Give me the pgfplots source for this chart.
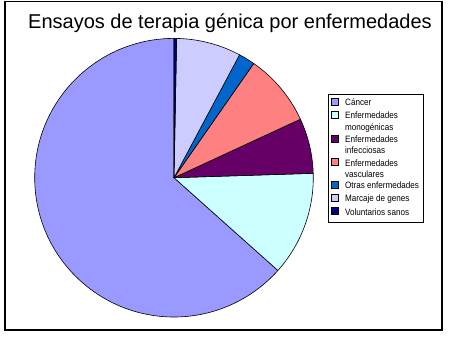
\documentclass[border=0pt]{standalone}
\usepackage{fontspec}
\setmainfont{Liberation Sans}
\usepackage{pgfplots}
\usepackage{pgfplotstable}
\pgfplotsset{compat=1.18}
\definecolor{ccancer}{HTML}{9999FF}
\definecolor{cmono}{HTML}{CCFFFF}
\definecolor{cinf}{HTML}{660066}
\definecolor{cvasc}{HTML}{FF8080}
\definecolor{cotras}{HTML}{0066CC}
\definecolor{cmarc}{HTML}{CCCCFF}
\definecolor{cvol}{HTML}{000080}
\pgfplotstableread[col sep=comma]{
name,value,color
Cancer,63.4,ccancer
Monogenicas,12.1,cmono
Infecciosas,6.4,cinf
Vasculares,8.4,cvasc
Otras,1.9,cotras
Marcaje,7.5,cmarc
Voluntarios,0.3,cvol
}\piedata
% #1 = baseline (image y, from top)
\newcommand\legsq[2]{\draw[black, line width=0.6bp, fill=#2] (axis cs:331,{343-#1+0.2}) rectangle (axis cs:338,{343-#1+7.2});}
\newcommand\legtx[2]{\node at (axis cs:345,{343-#1}) {\scalebox{0.88}[1]{#2}};}
\begin{document}
\begin{tikzpicture}
\useasboundingbox (0,0) rectangle (450bp,343bp);
\begin{axis}[
  at={(0,0)}, anchor=south west,
  scale only axis, x=1bp, y=1bp,
  xmin=0, xmax=450, ymin=0, ymax=343,
  hide axis, clip=false]
\addplot[draw=none] coordinates {(0,0) (450,343)};
% frame
\draw[black, line width=1.2bp] (axis cs:5,13) rectangle (axis cs:442,341.5);
% title
\node[anchor=base, font=\fontsize{20bp}{23bp}\selectfont] at (axis cs:230,314.7) {Ensayos de terapia génica por enfermedades};
% pie slices
\pgfplotsextra{
  \xdef\cum{90}
  \pgfplotstableforeachcolumnelement{value}\of\piedata\as\val{
    \pgfmathsetmacro{\ang}{\cum+3.6*\val}
    \pgfplotstablegetelem{\pgfplotstablerow}{color}\of\piedata
    \edef\slicecol{\pgfplotsretval}
    \fill[fill=\slicecol, draw=black, line width=0.6bp, line join=round]
      (axis cs:174,165.3) -- ++(\cum:139.3bp)
      arc[start angle=\cum, end angle=\ang, radius=139.3bp] -- cycle;
    \xdef\cum{\ang}
  }
}
% legend
\draw[black, line width=0.8bp, fill=white] (axis cs:328,120.3) rectangle (axis cs:423.5,249);
\legsq{105.7}{ccancer}
\legsq{118.8}{cmono}
\legsq{142.5}{cinf}
\legsq{166}{cvasc}
\legsq{188.3}{cotras}
\legsq{201.7}{cmarc}
\legsq{215}{cvol}
\begin{scope}[every node/.style={anchor=base west, inner sep=0pt, font=\fontsize{9.2bp}{11bp}\selectfont}]
\legtx{105.7}{Cáncer}
\legtx{118.8}{Enfermedades}
\legtx{130}{monogénicas}
\legtx{142.5}{Enfermedades}
\legtx{153.5}{infecciosas}
\legtx{166}{Enfermedades}
\legtx{177.5}{vasculares}
\legtx{188.3}{Otras enfermedades}
\legtx{201.7}{Marcaje de genes}
\legtx{215}{Voluntarios sanos}
\end{scope}
\end{axis}
\end{tikzpicture}
\end{document}
